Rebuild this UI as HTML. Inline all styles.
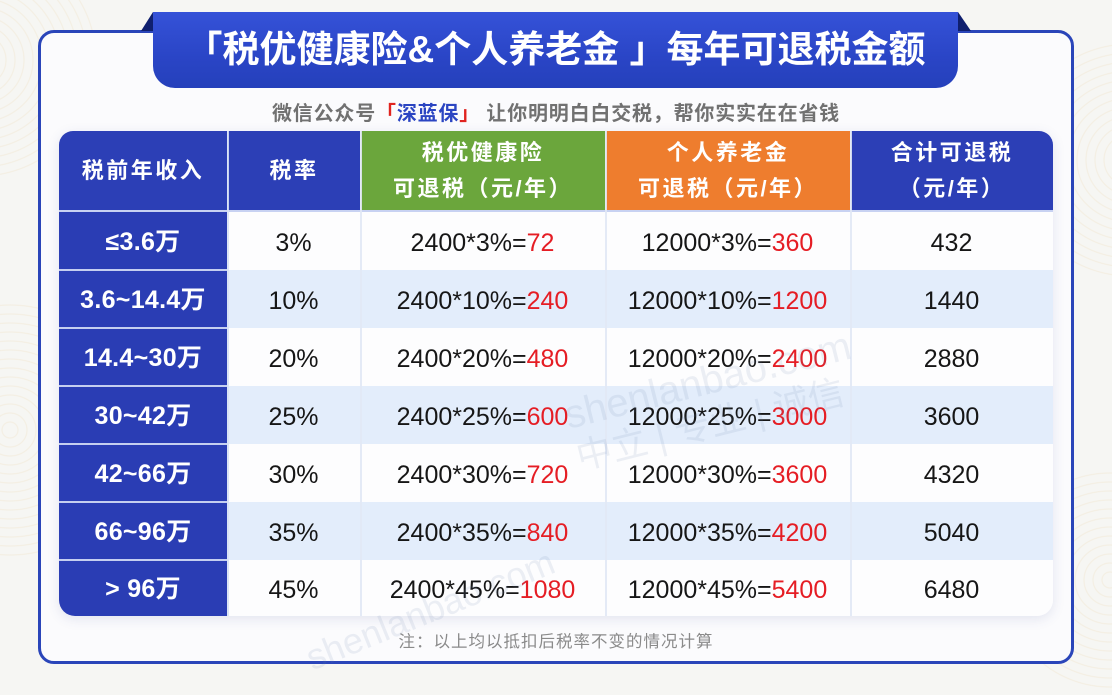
<!DOCTYPE html>
<html>
<head>
<meta charset="utf-8">
<style>
  html,body{margin:0;padding:0;}
  html{width:1112px;height:695px;overflow:hidden;background:#f6f6f3;}
  body{width:1112px;height:695px;overflow:hidden;background:#f6f6f3;
    font-family:"Liberation Sans","Noto Sans CJK SC",sans-serif;}
  #wrap{position:relative;width:1112px;height:695px;overflow:hidden;}
  .abs{position:absolute;}
  .deco{position:absolute;border-radius:50%;
    background:repeating-radial-gradient(circle, rgba(235,210,165,0) 0px, rgba(235,210,165,0) 7px, rgba(232,205,155,0.22) 8px, rgba(235,210,165,0) 9px);}
  .card{position:absolute;left:38px;top:30px;width:1030px;height:628px;border:3.5px solid #2a45b9;border-radius:16px;background:#fbfbfd;}
  .banner{position:absolute;left:153px;top:12px;width:805px;height:76px;border-radius:0 0 22px 22px;
    background:linear-gradient(180deg,#3552d8 0%,#2a45c6 60%,#2540bb 100%);
    color:#fff;font-weight:700;font-size:37px;line-height:76px;text-align:center;white-space:nowrap;}
  .sub{position:absolute;left:0;width:1112px;top:100px;text-align:center;font-size:20px;font-weight:700;color:#717171;letter-spacing:0.8px;white-space:nowrap;line-height:28px;}
  .tbl{position:absolute;left:59px;top:131px;width:994px;height:485px;border-radius:14px 14px 16px 16px;overflow:hidden;
    box-shadow:0 3px 12px rgba(60,80,150,0.13);background:#fdfdfe;}
  .h{position:absolute;top:0;height:79px;display:flex;flex-direction:column;align-items:center;justify-content:center;
    color:#fff;font-weight:700;font-size:22px;letter-spacing:2.5px;line-height:36px;white-space:nowrap;}
  .row{position:absolute;left:0;width:994px;height:58px;}
  .c{position:absolute;top:0;height:58px;display:flex;align-items:center;justify-content:center;padding-top:4px;box-sizing:border-box;
    font-size:25px;line-height:28px;color:#161616;white-space:nowrap;}
  .c span{line-height:28px;}
  .first{background:#2a3db4;color:#fff;font-weight:700;font-size:25px;letter-spacing:0.3px;padding-top:1px;}
  .first b{display:block;line-height:28px;height:28px;font-weight:700;}
  .r{color:#e51d24;}
  .note{position:absolute;left:0;width:1112px;top:631px;text-align:center;font-size:16.5px;color:#8a8a8a;letter-spacing:1px;line-height:22px;}
  .wm{position:absolute;color:rgba(110,130,170,0.12);font-weight:400;white-space:nowrap;transform-origin:left top;}
</style>
</head>
<body>
<div id="wrap">
  <!-- background decorations -->
  <div class="deco" style="left:-120px;top:300px;width:260px;height:260px;"></div>
  <div class="deco" style="left:-140px;top:-60px;width:240px;height:240px;"></div>
  <div class="deco" style="left:1010px;top:40px;width:240px;height:240px;"></div>
  <div class="deco" style="left:1000px;top:470px;width:220px;height:220px;"></div>

  <div class="card"></div>

  <!-- banner folds -->
  <svg class="abs" style="left:0;top:0" width="1112" height="60">
    <polygon points="141,31 153,12 153,31" fill="#0f1f6e"/>
    <polygon points="958,12 958,31 971,31" fill="#0f1f6e"/>
  </svg>
  <div class="banner">「税优健康险&amp;个人养老金 」每年可退税金额</div>

  <div class="sub">微信公众号<span style="color:#e0241f">「</span><span style="color:#2b45c2">深蓝保</span><span style="color:#e0241f">」</span> 让你明明白白交税，帮你实实在在省钱</div>

  <div class="tbl">
    <!-- header -->
    <div class="h" style="left:0;width:168px;background:#2c3fb6;">税前年收入</div>
    <div class="h" style="left:169px;width:132px;background:#2c3fb6;">税率</div>
    <div class="h" style="left:302px;width:244px;background:#6ba63c;"><div>税优健康险</div><div>可退税（元/年）</div></div>
    <div class="h" style="left:547px;width:244px;background:#ee7d2e;"><div>个人养老金</div><div>可退税（元/年）</div></div>
    <div class="h" style="left:792px;width:202px;background:#2c3fb6;"><div>合计可退税</div><div>（元/年）</div></div>
    <div class="abs" style="left:0;top:79px;width:994px;height:2px;background:#c8d2f2;"></div>

    <!-- rows -->
    <div class="row" style="top:81px;background:#fdfdfe;">
      <div class="c first" style="left:0;width:168px;"><b>≤3.6万</b></div>
      <div class="c" style="left:168px;width:133px;">3%</div>
      <div class="c" style="left:301px;width:245px;">2400*3%=<span class="r">72</span></div>
      <div class="c" style="left:546px;width:245px;">12000*3%=<span class="r">360</span></div>
      <div class="c" style="left:791px;width:203px;">432</div>
    </div>
    <div class="row" style="top:139px;background:#e3edfb;">
      <div class="c first" style="left:0;width:168px;"><b>3.6~14.4万</b></div>
      <div class="c" style="left:168px;width:133px;">10%</div>
      <div class="c" style="left:301px;width:245px;">2400*10%=<span class="r">240</span></div>
      <div class="c" style="left:546px;width:245px;">12000*10%=<span class="r">1200</span></div>
      <div class="c" style="left:791px;width:203px;">1440</div>
    </div>
    <div class="row" style="top:197px;background:#fdfdfe;">
      <div class="c first" style="left:0;width:168px;"><b>14.4~30万</b></div>
      <div class="c" style="left:168px;width:133px;">20%</div>
      <div class="c" style="left:301px;width:245px;">2400*20%=<span class="r">480</span></div>
      <div class="c" style="left:546px;width:245px;">12000*20%=<span class="r">2400</span></div>
      <div class="c" style="left:791px;width:203px;">2880</div>
    </div>
    <div class="row" style="top:255px;background:#e3edfb;">
      <div class="c first" style="left:0;width:168px;"><b>30~42万</b></div>
      <div class="c" style="left:168px;width:133px;">25%</div>
      <div class="c" style="left:301px;width:245px;">2400*25%=<span class="r">600</span></div>
      <div class="c" style="left:546px;width:245px;">12000*25%=<span class="r">3000</span></div>
      <div class="c" style="left:791px;width:203px;">3600</div>
    </div>
    <div class="row" style="top:313px;background:#fdfdfe;">
      <div class="c first" style="left:0;width:168px;"><b>42~66万</b></div>
      <div class="c" style="left:168px;width:133px;">30%</div>
      <div class="c" style="left:301px;width:245px;">2400*30%=<span class="r">720</span></div>
      <div class="c" style="left:546px;width:245px;">12000*30%=<span class="r">3600</span></div>
      <div class="c" style="left:791px;width:203px;">4320</div>
    </div>
    <div class="row" style="top:371px;background:#e3edfb;">
      <div class="c first" style="left:0;width:168px;"><b>66~96万</b></div>
      <div class="c" style="left:168px;width:133px;">35%</div>
      <div class="c" style="left:301px;width:245px;">2400*35%=<span class="r">840</span></div>
      <div class="c" style="left:546px;width:245px;">12000*35%=<span class="r">4200</span></div>
      <div class="c" style="left:791px;width:203px;">5040</div>
    </div>
    <div class="row" style="top:429px;height:56px;background:#fdfdfe;">
      <div class="c first" style="left:0;width:168px;height:56px;"><b>&gt; 96万</b></div>
      <div class="c" style="left:168px;width:133px;height:56px;">45%</div>
      <div class="c" style="left:301px;width:245px;height:56px;">2400*45%=<span class="r">1080</span></div>
      <div class="c" style="left:546px;width:245px;height:56px;">12000*45%=<span class="r">5400</span></div>
      <div class="c" style="left:791px;width:203px;height:56px;">6480</div>
    </div>

    <!-- separators -->
    <div class="abs" style="left:168px;top:0;width:1.5px;height:485px;background:rgba(215,225,245,0.9);"></div>
    <div class="abs" style="left:301px;top:0;width:1.5px;height:485px;background:rgba(225,232,245,0.9);"></div>
    <div class="abs" style="left:546px;top:0;width:1.5px;height:485px;background:rgba(225,232,245,0.9);"></div>
    <div class="abs" style="left:791px;top:0;width:1.5px;height:485px;background:rgba(225,232,245,0.9);"></div>
    <div class="abs" style="left:0;top:138px;width:168px;height:2px;background:#c5cff0;"></div>
    <div class="abs" style="left:0;top:196px;width:168px;height:2px;background:#c5cff0;"></div>
    <div class="abs" style="left:0;top:254px;width:168px;height:2px;background:#c5cff0;"></div>
    <div class="abs" style="left:0;top:312px;width:168px;height:2px;background:#c5cff0;"></div>
    <div class="abs" style="left:0;top:370px;width:168px;height:2px;background:#c5cff0;"></div>
    <div class="abs" style="left:0;top:428px;width:168px;height:2px;background:#c5cff0;"></div>
  </div>

  <!-- watermarks -->
  <div class="wm" style="left:560px;top:395px;font-size:40px;transform:rotate(-14deg);">shenlanbao.com</div>
  <div class="wm" style="left:570px;top:430px;font-size:36px;transform:rotate(-14deg);">中立 | 专业 | 诚信</div>
  <div class="wm" style="left:300px;top:640px;font-size:36px;transform:rotate(-22deg);">shenlanbao.com</div>

  <div class="note">注：以上均以抵扣后税率不变的情况计算</div>
</div>
</body>
</html>
